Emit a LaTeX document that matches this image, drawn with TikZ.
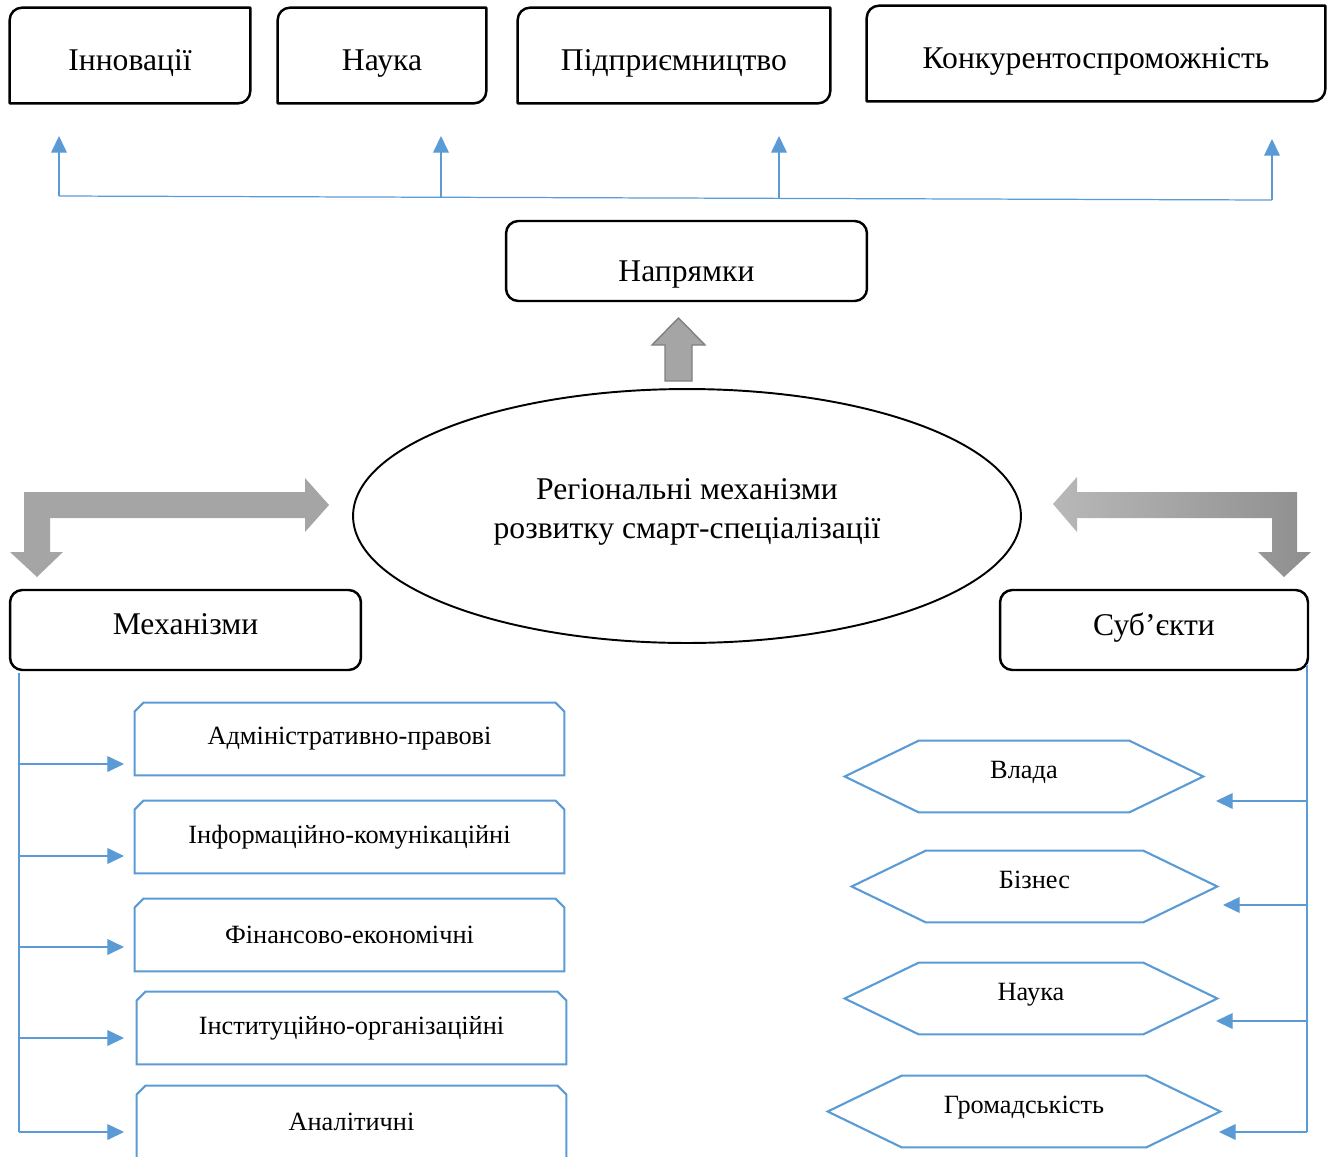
\documentclass[tikz,border=0pt]{standalone}
\usepackage{fontspec}
\setmainfont{Liberation Serif}
\usetikzlibrary{arrows.meta,shapes.geometric}
\definecolor{ink}{HTML}{000000}
\definecolor{sky}{HTML}{5B9BD5}
\definecolor{arrgray}{HTML}{A5A5A5}
\definecolor{arredge}{HTML}{7F7F7F}
\definecolor{shadel}{HTML}{B8B8B8}
\definecolor{shader}{HTML}{8F8F8F}
\tikzset{
  box/.style={draw=ink, line width=1.4pt, line join=round},
  bigt/.style={font=\fontsize{18}{22}\selectfont, inner sep=0pt},
  smallt/.style={font=\fontsize{15}{18}\selectfont, inner sep=0pt},
  topbox/.style={bigt, minimum height=1.9cm, text height=0.74cm, text depth=0.14cm},
  mainbox/.style={box, bigt, rounded corners=7pt, minimum height=1.6cm},
  edgeb/.style={draw=sky, line width=1.2pt, line join=miter},
  mechbox/.style={smallt, minimum width=8.58cm, minimum height=1.44cm},
  hexbox/.style={smallt, minimum height=1.42cm, text height=0.35cm, text depth=0.28cm},
  link/.style={draw=sky, line width=0.7pt},
  linkarr/.style={link, -{Triangle[length=9.5pt,width=9pt]}},
  block/.style={fill=arrgray, draw=arredge, line width=0.8pt, line join=miter},
}

\begin{document}
\begin{tikzpicture}[x=0.02cm, y=-0.02cm]
  \useasboundingbox (0,0) rectangle (1333,1157);

  \node[topbox, minimum width=4.8cm] (inn) at (130,55.5) {Інновації};
  \node[topbox, minimum width=4.16cm] (sci) at (382,55.5) {Наука};
  \node[topbox, minimum width=6.24cm] (ent) at (674,55.5) {Підприємництво};
  \node[topbox, minimum width=9.16cm] (comp) at (1096,53.5) {Конкурентоспроможність};
  \foreach \n in {inn,sci,ent,comp}
    \draw[box] (\n.south west) -- ([yshift=-7pt]\n.north west)
      arc[start angle=180, end angle=90, radius=7pt] -- (\n.north east)
      -- ([yshift=7pt]\n.south east) arc[start angle=0, end angle=-90, radius=7pt] -- cycle;

  \coordinate (t1) at (59,196);
  \coordinate (t2) at (441,197.3);
  \coordinate (t3) at (779,198.4);
  \coordinate (t4) at (1272,200);
  \coordinate (a1) at (59,136);
  \coordinate (a2) at (441,136);
  \coordinate (a3) at (779,136);
  \coordinate (a4) at (1272,139);
  \draw[link] (t1) -- (t4);
  \foreach \i in {1,...,4}
    \draw[linkarr] (t\i) -- (a\i);

  \node[mainbox, minimum width=7.22cm, text height=0.96cm, text depth=0.14cm] (dir) at (686.5,261) {Напрямки};
  \path[block] (665,381) -- (665,345) -- (652,345) -- (678.5,318) -- (705,345) -- (692,345) -- (692,381) -- cycle;

  \node[ellipse, draw=ink, line width=1.1pt, bigt, align=center, text depth=0.3cm, minimum width=13.36cm, minimum height=5.08cm] (core) at (687,516)
    {Регіональні механізми\\розвитку смарт-спеціалізації};

  \path[fill=arrgray] (24,492) -- (305,492) -- (305,478) -- (329,505) -- (305,532) -- (305,518) -- (50,518)
    -- (50,552) -- (63,552) -- (37,577) -- (10,552) -- (24,552) -- cycle;
  \path[left color=shadel, right color=shader] (1297,492) -- (1077,492) -- (1077,477) -- (1053,504) -- (1077,532)
    -- (1077,518) -- (1272,518) -- (1272,552) -- (1258,552) -- (1284,577) -- (1311,552) -- (1297,552) -- cycle;

  \node[mainbox, minimum width=7.02cm, text depth=0.24cm] (mech) at (185.5,630) {Механізми};
  \node[mainbox, minimum width=6.16cm, text depth=0.24cm] (subj) at (1154,630) {Суб’єкти};

  \node[mechbox] (m1) at (349.5,739) {Адміністративно-правові};
  \node[mechbox] (m2) at (349.5,837) {Інформаційно-комунікаційні};
  \node[mechbox] (m3) at (349.5,935) {Фінансово-економічні};
  \node[mechbox] (m4) at (351.5,1028) {Інституційно-організаційні};
  \node[mechbox] (m5) at (351.5,1122) {Аналітичні};
  \foreach \i in {1,...,5}
    \draw[edgeb] (m\i.south west) -- ([yshift=-5pt]m\i.north west) -- ([xshift=5pt]m\i.north west)
      -- ([xshift=-5pt]m\i.north east) -- ([yshift=-5pt]m\i.north east) -- (m\i.south east) -- cycle;

  \node[hexbox, minimum width=7.16cm] (h1) at (1024,776.5) {Влада};
  \node[hexbox, minimum width=7.3cm] (h2) at (1034.5,886.5) {Бізнес};
  \node[hexbox, minimum width=7.44cm] (h3) at (1031,998.5) {Наука};
  \node[hexbox, minimum width=7.84cm] (h4) at (1024,1111.5) {Громадськість};
  \foreach \i in {1,...,4}
    \draw[edgeb] (h\i.west) -- ([xshift=1.48cm]h\i.north west) -- ([xshift=-1.48cm]h\i.north east) -- (h\i.east)
      -- ([xshift=-1.48cm]h\i.south east) -- ([xshift=1.48cm]h\i.south west) -- cycle;

  \coordinate (lt) at (19,673);
  \foreach \i/\y in {1/764,2/856,3/947,4/1038,5/1132} {
    \coordinate (l\i) at (19,\y);
    \coordinate (e\i) at (124,\y);
    \draw[linkarr] (l\i) -- (e\i);
  }
  \draw[link] (lt) -- (l5);

  \coordinate (rt) at (1307,665);
  \foreach \i/\y/\x in {1/801/1216,2/905/1223,3/1021/1216,4/1132/1219} {
    \coordinate (r\i) at (1307,\y);
    \coordinate (f\i) at (\x,\y);
    \draw[linkarr] (r\i) -- (f\i);
  }
  \draw[link] (rt) -- (r4);
\end{tikzpicture}
\end{document}
